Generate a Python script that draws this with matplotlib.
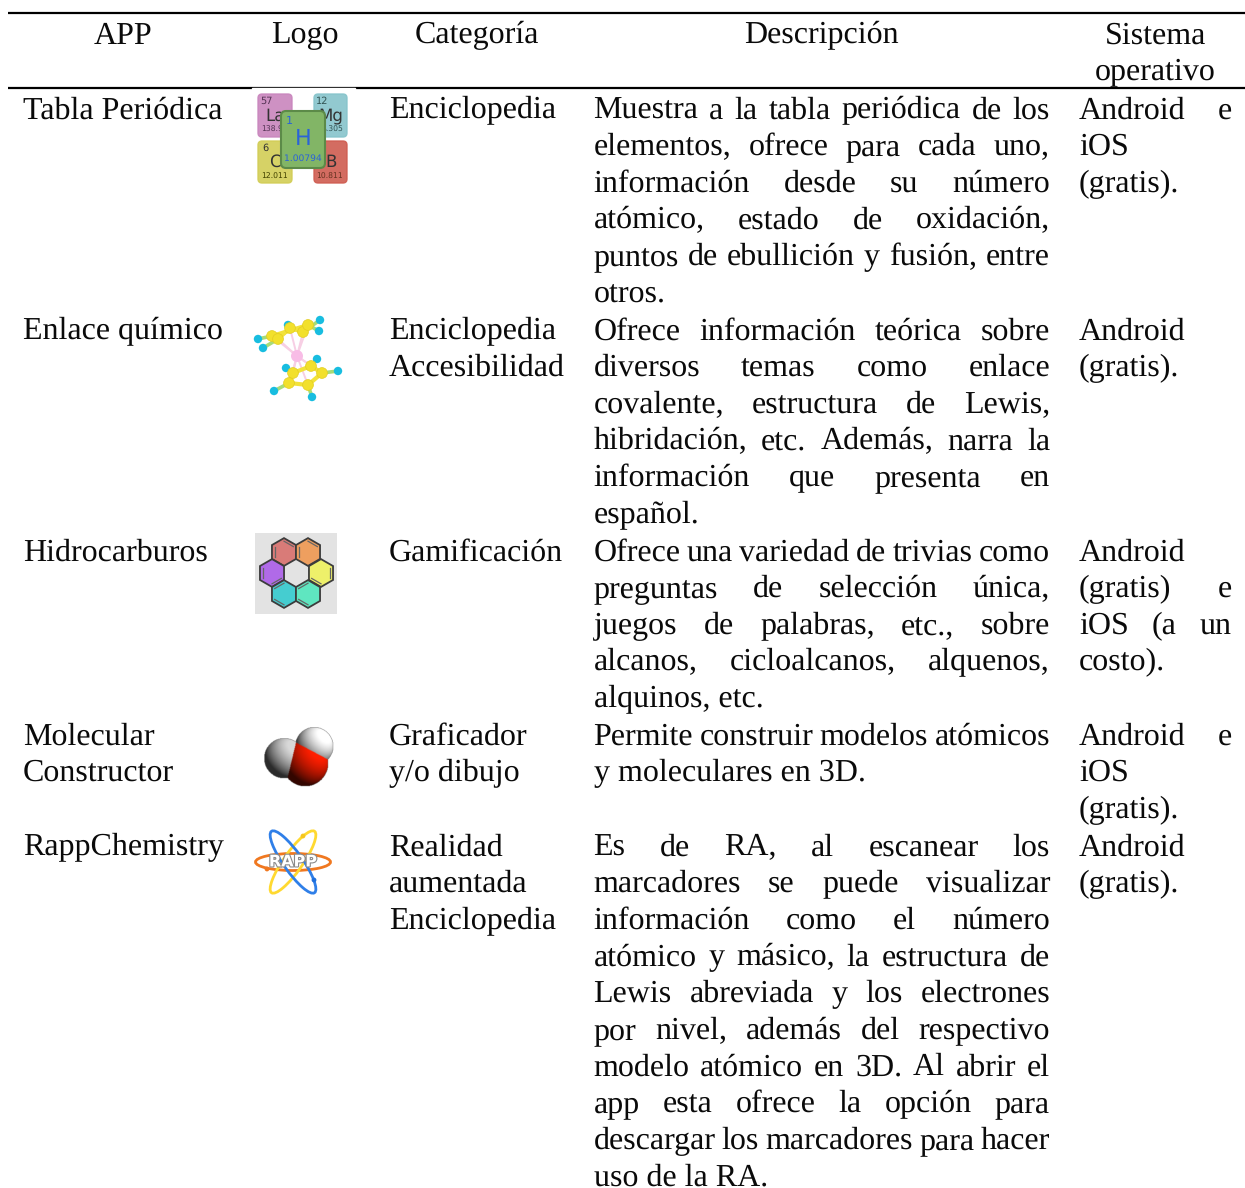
import numpy as np
import matplotlib
matplotlib.use("Agg")
import matplotlib.pyplot as plt
import matplotlib.patheffects as pe
from matplotlib.patches import Circle, Ellipse, FancyBboxPatch, Polygon, Rectangle

plt.rcParams['font.family'] = ['Liberation Serif', 'DejaVu Serif']
plt.rcParams['text.hinting'] = 'no_hinting'
FS = 23.0

headers = ["APP", "Logo", "Categoría", "Descripción", "Sistema\noperativo"]
header_x = [123.5, 305, 476.5, 821, 1155.5]

apps = [["Tabla Periódica"], ["Enlace químico"], ["Hidrocarburos"],
        ["Molecular", "Constructor"], ["RappChemistry"]]
categories = [["Enciclopedia"], ["Enciclopedia", "Accesibilidad"], ["Gamificación"],
              ["Graficador", "y/o dibujo"], ["Realidad", "aumentada", "Enciclopedia"]]
descriptions = [
    ["Muestra a la tabla periódica de los", "elementos, ofrece para cada uno,",
     "información desde su número", "atómico, estado de oxidación,",
     "puntos de ebullición y fusión, entre", "otros."],
    ["Ofrece información teórica sobre", "diversos temas como enlace",
     "covalente, estructura de Lewis,", "hibridación, etc. Además, narra la",
     "información que presenta en", "español."],
    ["Ofrece una variedad de trivias como", "preguntas de selección única,",
     "juegos de palabras, etc., sobre", "alcanos, cicloalcanos, alquenos,",
     "alquinos, etc."],
    ["Permite construir modelos atómicos", "y moleculares en 3D."],
    ["Es de RA, al escanear los", "marcadores se puede visualizar",
     "información como el número", "atómico y másico, la estructura de",
     "Lewis abreviada y los electrones", "por nivel, además del respectivo",
     "modelo atómico en 3D. Al abrir el", "app esta ofrece la opción para",
     "descargar los marcadores para hacer", "uso de la RA."],
]
systems = [
    ["Android e", "iOS", "(gratis)."],
    ["Android", "(gratis)."],
    ["Android", "(gratis) e", "iOS (a un", "costo)."],
    ["Android e", "iOS", "(gratis)."],
    ["Android", "(gratis)."],
]
row_baselines = [118.5, 339.5, 560.5, 744.5, 855.5]
LINE_H = 36.65

COL_APP = 23
COL_CAT = 389
DESC_L, DESC_R = 593.5, 1050
SYS_L, SYS_R = 1079, 1232

fig = plt.figure(figsize=(12.45, 11.88), dpi=100)
ax = fig.add_axes([0, 0, 1, 1])
ax.set_xlim(0, 1245)
ax.set_ylim(1188, 0)
ax.axis('off')
renderer = fig.canvas.get_renderer()


def put(x, y, s, **kw):
    return ax.text(x, y, s, fontsize=FS, va='baseline', color='#0a0a0a', **kw)


def justified(left, right, y, line, stretch):
    words = line.split()
    if not stretch or len(words) < 2:
        put(left, y, line)
        return
    items = [put(left, y, w) for w in words]
    widths = [t.get_window_extent(renderer).width for t in items]
    gap = (right - left - sum(widths)) / (len(words) - 1)
    x = left
    for t, w in zip(items, widths):
        t.set_x(x)
        x += w + gap


# rules
ax.plot([8, 1245], [13, 13], color='black', lw=1.6, solid_capstyle='butt')
ax.plot([8, 1245], [88, 88], color='black', lw=1.6, solid_capstyle='butt')
ax.add_patch(Rectangle((252, 87.6), 103, 3, color='white', zorder=3))

# header
for x, h in zip(header_x, headers):
    for i, part in enumerate(h.split("\n")):
        put(x, 43.5 + i * 37, part, ha='center')

# body
for r, y0 in enumerate(row_baselines):
    for i, s in enumerate(apps[r]):
        put(COL_APP, y0 + i * LINE_H, s)
    for i, s in enumerate(categories[r]):
        put(COL_CAT, y0 + i * LINE_H, s)
    lines = descriptions[r]
    for i, s in enumerate(lines):
        justified(DESC_L, DESC_R, y0 + i * LINE_H, s, i < len(lines) - 1)
    for i, s in enumerate(systems[r]):
        justified(SYS_L, SYS_R, y0 + i * LINE_H, s, s in ("Android e", "(gratis) e", "iOS (a un"))


def logo_text(x, y, s, size, color='#333333', z=5):
    ax.text(x, y, s, fontsize=size, family='DejaVu Sans', color=color, ha='center', va='center', zorder=z)


def tile(x0, y0, x1, y1, color, z=4):
    ax.add_patch(FancyBboxPatch((x0 + 3, y0 + 3), x1 - x0 - 6, y1 - y0 - 6, boxstyle="round,pad=3,rounding_size=4",
                                fc=color, ec=color, lw=1, alpha=0.9, zorder=z))


# logo 1, periodic table
tile(258, 94, 292, 137, '#c985bd')
tile(314, 94, 347, 137, '#86c4cb')
tile(258, 141, 292, 183, '#d2cd55')
tile(314, 141, 347, 183, '#cf5c50')
logo_text(266, 101, "57", 7, '#553355')
logo_text(275, 116, "La", 12)
logo_text(272, 130, "138.9", 5.5, '#553355')
logo_text(322, 101, "12", 7, '#335555')
logo_text(331, 116, "Mg", 12)
logo_text(333, 130, "4.305", 5.5, '#335555')
logo_text(265, 148, "6", 7)
logo_text(275, 162, "C", 12)
logo_text(275, 177, "12.011", 5.5, '#444400')
logo_text(331, 162, "B", 12)
logo_text(330, 177, "10.811", 5.5, '#663322')
ax.add_patch(FancyBboxPatch((285, 115), 36, 49, boxstyle="round,pad=4,rounding_size=5", fc='#82b566', ec='#5c8a48', lw=1.5, zorder=6))
logo_text(289, 121, "1", 8, '#2a63d8', 7)
logo_text(303, 139, "H", 16, '#2a63d8', 7)
logo_text(303, 158, "1.00794", 6.6, '#2a63d8', 7)

# logo 2, ferrocene ball and stick
yellow_up = [(272, 336), (278, 339), (290, 328), (303, 332), (308, 325)]
cyan_up = [(258, 339), (263, 348), (288, 325), (320, 320), (319, 331)]
yellow_lo = [(293, 373), (311, 366), (322, 373), (308, 385), (289, 383)]
cyan_lo = [(286, 368), (317, 359), (338, 371), (312, 397), (274, 391)]
center = (297, 356)
for group, ends in ((yellow_up, cyan_up), (yellow_lo, cyan_lo)):
    pts = np.array(group)
    ax.add_patch(Polygon(pts, fill=False, ec='#f2e23a', lw=3, zorder=4))
    for p, q in zip(group, ends):
        ax.plot([p[0], q[0]], [p[1], q[1]], color='#a8dc78', lw=2.6, zorder=3)
        ax.plot([p[0], center[0]], [p[1], center[1]], color='#f7cfe4', lw=1.4, zorder=3)
        ax.add_patch(Circle(q, 4.2, fc='#18bde0', ec='none', zorder=5))
        ax.add_patch(Circle(p, 5.4, fc='#f2e02c', ec='#e3cd22', lw=0.5, zorder=5))
ax.add_patch(Circle(center, 6, fc='#f8bce6', ec='none', zorder=6))

# logo 3, hexagons
ax.add_patch(Rectangle((255, 533), 82, 81, fc='#e3e3e3', ec='none'))
hex_cx = [284, 308, 272, 321, 284, 308]
hex_cy = [552, 552, 573, 573, 594, 594]
hex_colors = ['#d97b78', '#ee9f5f', '#b06ae8', '#eef06a', '#45cdd0', '#5fe6c0']
hex_inner = [(0, 4), (0, 4), (2, 4), (1, 3), (3, 5), (3, 5)]
angles = np.radians(np.arange(6) * 60 - 90)
for cx, cy, col, inner in zip(hex_cx, hex_cy, hex_colors, hex_inner):
    xs = cx + 13.9 * np.cos(angles)
    ys = cy + 13.9 * np.sin(angles)
    ax.add_patch(Polygon(np.c_[xs, ys], fc=col, ec='#3c3c3c', lw=1.3, zorder=3))
    xi = cx + 10.8 * np.cos(angles)
    yi = cy + 10.8 * np.sin(angles)
    for k in inner:
        ax.plot([xi[k], xi[(k + 1) % 6]], [yi[k], yi[(k + 1) % 6]], color='#666666', lw=0.9, zorder=4)

# logo 4, water molecule, small z-buffer render
gx, gy = np.meshgrid(np.arange(255, 345, 0.5), np.arange(720, 795, 0.5))
img = np.zeros(gx.shape + (4,))
depth = np.full(gx.shape, -1e9)
spheres = [(284, 758, 20, (0.85, 0.85, 0.85)),
           (314, 746, 19, (1.0, 1.0, 1.0)),
           (305, 763, 23, (1.0, 0.12, 0.0))]
for cx, cy, rad, col in spheres:
    d2 = rad ** 2 - (gx - cx) ** 2 - (gy - cy) ** 2
    mask = d2 > 0
    z = np.where(mask, np.sqrt(np.maximum(d2, 0)), 0)
    show = mask & (z > depth)
    nx, ny, nz = (gx - cx) / rad, (gy - cy) / rad, z / rad
    shade = np.clip(0.35 + 0.75 * (0.55 * nx - 0.55 * ny + 0.55 * nz), 0.2, 1.0)
    for c in range(3):
        img[..., c][show] = col[c] * shade[show]
    img[..., 3][show] = 1
    depth[show] = z[show]
ax.imshow(img, extent=(255, 345, 795, 720), interpolation='bilinear', zorder=3, aspect='auto')
ax.set_xlim(0, 1245)
ax.set_ylim(1188, 0)

# logo 5, atom
orbit_cx, orbit_cy = 293, 862
ax.add_patch(Ellipse((orbit_cx, orbit_cy), 75, 17, fill=False, ec='#f07820', lw=2, zorder=4))
ax.add_patch(Ellipse((orbit_cx, orbit_cy), 75, 19, angle=-55, fill=False, ec='#ffd930', lw=2, zorder=4))
ax.add_patch(Ellipse((orbit_cx, orbit_cy), 75, 19, angle=55, fill=False, ec='#2f7fe8', lw=2, zorder=5))
ax.add_patch(Circle((267, 869), 2.4, fc='#f07820', ec='none', zorder=6))
ax.add_patch(Circle((303, 836), 2.4, fc='#f5c61e', ec='none', zorder=6))
ax.add_patch(Circle((314, 880), 2.4, fc='#1f6fdc', ec='none', zorder=6))
ax.text(orbit_cx, orbit_cy, "RAPP", fontsize=11.5, family='DejaVu Sans', weight='bold', color='white',
        ha='center', va='center', zorder=7,
        path_effects=[pe.withStroke(linewidth=1.6, foreground='#8a8a8a')])

fig.savefig('out.png', dpi=100, facecolor='white')
